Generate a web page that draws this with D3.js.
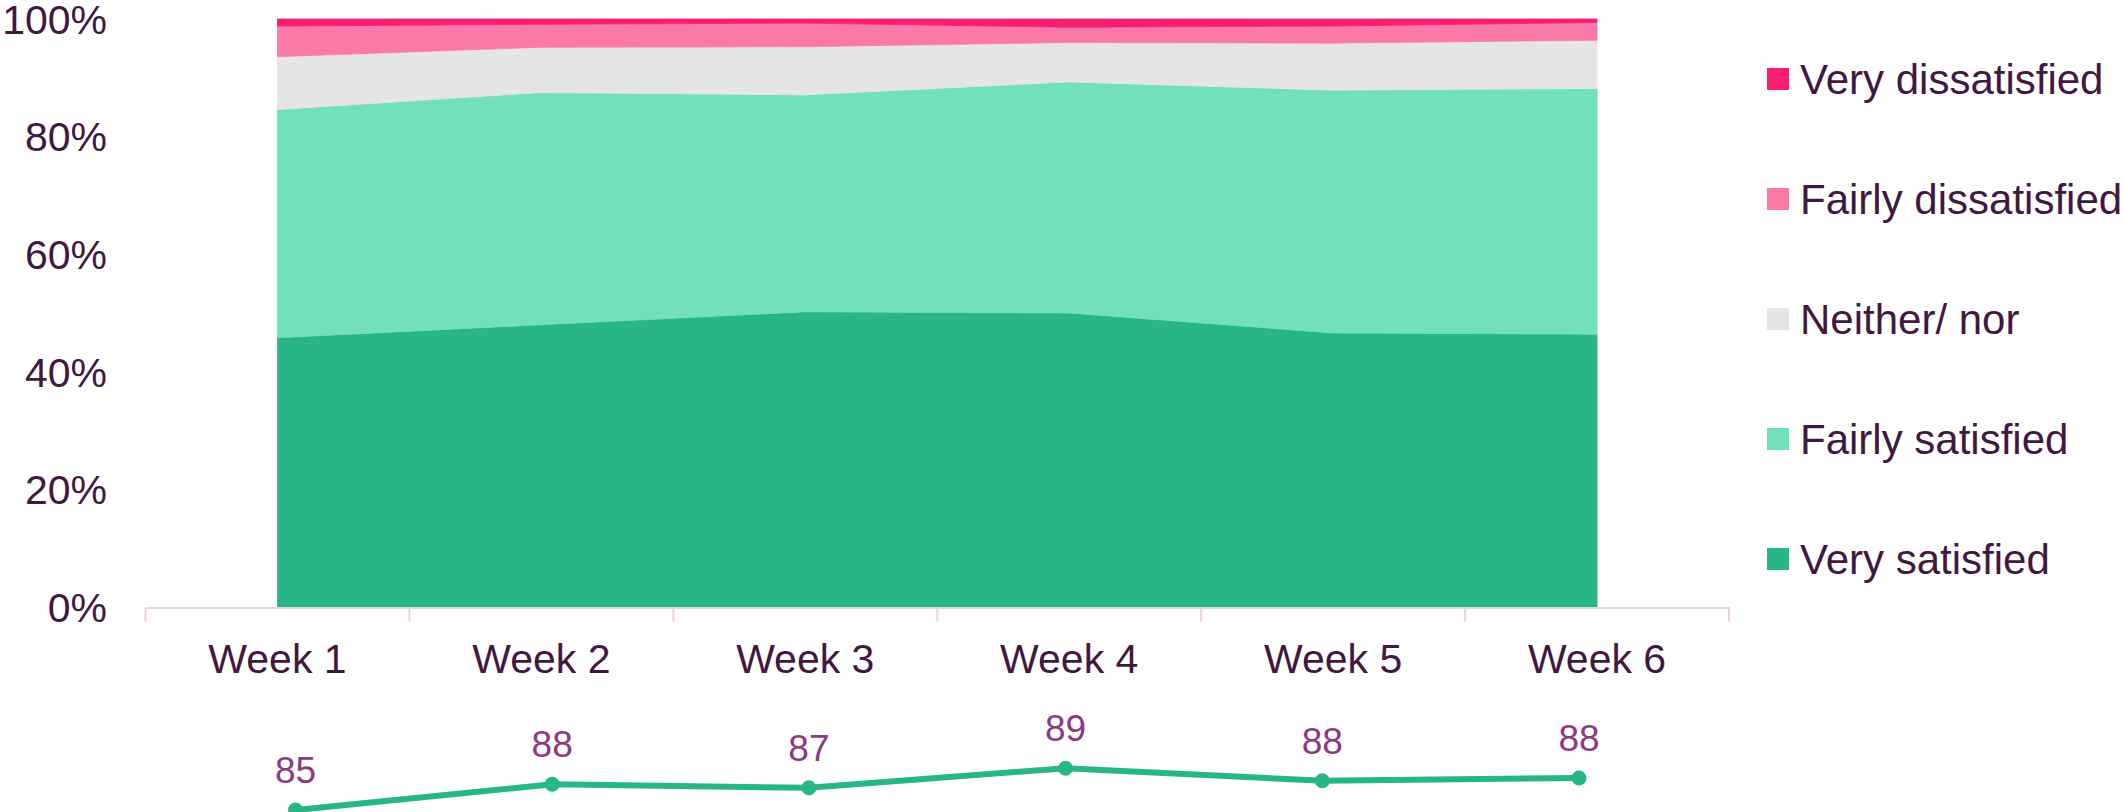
<!DOCTYPE html>
<html>
<head>
<meta charset="utf-8">
<script src="https://cdn.jsdelivr.net/npm/d3@7"></script>
<style>
  body { margin: 0; background: #fff; }
  text { font-family: "Liberation Sans", Arial, sans-serif; }
</style>
</head>
<body>
<script>
var w = 2124;
var h = 812;

// data
var weeks = ["Week 1", "Week 2", "Week 3", "Week 4", "Week 5", "Week 6"];
var verySatisfied = [45.8, 48.0, 50.2, 50.0, 46.6, 46.4];
var fairlySatisfied = [38.8, 39.5, 36.9, 39.3, 41.3, 41.8];
var neitherNor = [9.0, 7.7, 8.2, 6.7, 8.0, 8.2];
var fairlyDissatisfied = [5.2, 3.9, 4.0, 2.6, 2.9, 3.0];
var veryDissatisfied = [1.2, 0.9, 0.7, 1.4, 1.2, 0.6];
// total satisfied (line underneath)
var totalSatisfied = [84.6, 87.5, 87.1, 89.3, 87.9, 88.2];
var yTicks = [0, 20, 40, 60, 80, 100];

var keys = ["Very satisfied", "Fairly satisfied", "Neither/ nor", "Fairly dissatisfied", "Very dissatisfied"];
var series = [verySatisfied, fairlySatisfied, neitherNor, fairlyDissatisfied, veryDissatisfied];
var colors = ["#28b686", "#72e0bd", "#e5e5e5", "#fb79a7", "#f91f70"];

var textColor = "#41193f";
var labelColor = "#8b3a7f";
var axisColor = "#ecd0ea";

var table = weeks.map(function (wk, i) {
  var row = { week: wk };
  keys.forEach(function (k, j) { row[k] = series[j][i]; });
  return row;
});

var svg = d3.select("body").append("svg").attr("width", w).attr("height", h);
svg.append("rect").attr("width", w).attr("height", h).attr("fill", "#fff");

var x = d3.scaleBand().domain(weeks).range([145.5, 1729]);
var y = d3.scaleLinear().domain([0, 100]).range([607, 19]);

var stack = d3.stack().keys(keys);
var layers = stack(table);

var area = d3.area()
  .x(function (d) { return x(d.data.week) + x.bandwidth() / 2; })
  .y0(function (d) { return y(d[0]); })
  .y1(function (d) { return y(d[1]); });

svg.append("g")
  .selectAll("path")
  .data(layers)
  .enter()
  .append("path")
  .attr("d", area)
  .attr("fill", function (d, i) { return colors[i]; })
  .attr("stroke", function (d, i) { return colors[i]; })
  .attr("stroke-width", 0.8);

// y axis labels
svg.append("g")
  .selectAll("text")
  .data(yTicks)
  .enter()
  .append("text")
  .attr("x", 107)
  .attr("y", function (d) { return y(d); })
  .attr("dy", "0.36em")
  .attr("text-anchor", "end")
  .attr("fill", textColor)
  .style("font-size", "41px")
  .text(function (d) { return d + "%"; });

// x axis
var xAxis = svg.append("g").attr("transform", "translate(0,607.5)")
  .call(d3.axisBottom(x).tickSize(0).tickPadding(36));
xAxis.select(".domain").attr("stroke", axisColor).attr("stroke-width", 2);
xAxis.selectAll("text")
  .attr("fill", textColor)
  .style("font-size", "41px")
  .style("font-family", "'Liberation Sans', Arial, sans-serif");

var bounds = weeks.map(function (d) { return x(d); }).concat([x.range()[1]]);
xAxis.selectAll(".sep")
  .data(bounds)
  .enter()
  .append("line")
  .attr("x1", function (d) { return d; })
  .attr("x2", function (d) { return d; })
  .attr("y1", 0)
  .attr("y2", 14)
  .attr("stroke", axisColor)
  .attr("stroke-width", 2);

// legend (top entry = top layer)
var legend = svg.append("g")
  .selectAll("g")
  .data(keys.slice().reverse())
  .enter()
  .append("g")
  .attr("transform", function (d, i) { return "translate(1767," + (79 + i * 120) + ")"; });

legend.append("rect")
  .attr("x", 0)
  .attr("y", -11)
  .attr("width", 22)
  .attr("height", 22)
  .attr("fill", function (d) { return colors[keys.indexOf(d)]; });

legend.append("text")
  .attr("x", 33)
  .attr("y", 0)
  .attr("dy", "0.36em")
  .attr("fill", textColor)
  .style("font-size", "42px")
  .text(function (d) { return d; });

// total satisfied line below
var xl = d3.scalePoint().domain(weeks).range([295.5, 1579]);
var yl = d3.scaleLinear().domain([80, 90]).range([851, 762]);

var line = d3.line()
  .x(function (d, i) { return xl(weeks[i]); })
  .y(function (d) { return yl(d); });

svg.append("path")
  .datum(totalSatisfied)
  .attr("d", line)
  .attr("fill", "none")
  .attr("stroke", "#28b686")
  .attr("stroke-width", 6);

svg.append("g")
  .selectAll("circle")
  .data(totalSatisfied)
  .enter()
  .append("circle")
  .attr("cx", function (d, i) { return xl(weeks[i]); })
  .attr("cy", function (d) { return yl(d); })
  .attr("r", 7.5)
  .attr("fill", "#28b686");

svg.append("g")
  .selectAll("text")
  .data(totalSatisfied)
  .enter()
  .append("text")
  .attr("x", function (d, i) { return xl(weeks[i]); })
  .attr("y", function (d) { return yl(d) - 27; })
  .attr("text-anchor", "middle")
  .attr("fill", labelColor)
  .style("font-size", "37px")
  .text(function (d) { return Math.round(d); });
</script>
</body>
</html>
